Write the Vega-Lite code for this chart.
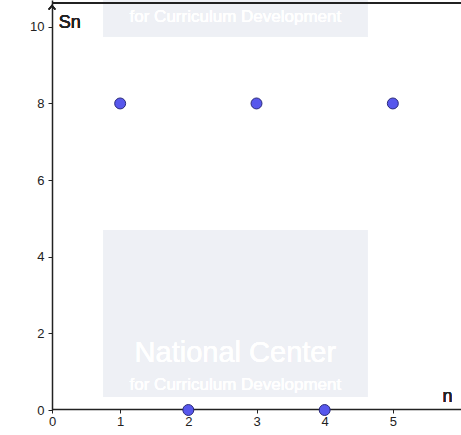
{
  "$schema": "https://vega.github.io/schema/vega-lite/v6.json",
  "width": 409,
  "height": 410,
  "autosize": {"type": "none"},
  "padding": {"left": 52, "top": 0, "right": 0, "bottom": 25},
  "background": "white",
  "config": {"view": {"stroke": null}, "font": "Liberation Sans"},
  "data": {"values": [
    {"n": 1, "Sn": 8},
    {"n": 2, "Sn": 0},
    {"n": 3, "Sn": 8},
    {"n": 4, "Sn": 0},
    {"n": 5, "Sn": 8}
  ]},
  "layer": [
    {
      "mark": {"type": "rect", "color": "#eef0f5"},
      "encoding": {"x": {"datum": 0.75}, "x2": {"datum": 4.63}, "y": {"datum": 4.7}, "y2": {"datum": 0.34}}
    },
    {
      "mark": {"type": "rect", "color": "#eef0f5"},
      "encoding": {"x": {"datum": 0.75}, "x2": {"datum": 4.63}, "y": {"datum": 10.7}, "y2": {"datum": 9.74}}
    },
    {
      "mark": {"type": "text", "fontSize": 29, "color": "white", "align": "center", "baseline": "middle"},
      "encoding": {"x": {"datum": 2.69}, "y": {"datum": 1.5}, "text": {"value": "National Center"}}
    },
    {
      "mark": {"type": "text", "fontSize": 17, "color": "white", "align": "center", "baseline": "middle"},
      "encoding": {"x": {"datum": 2.69}, "y": {"datum": 0.65}, "text": {"value": "for Curriculum Development"}}
    },
    {
      "mark": {"type": "text", "fontSize": 17, "color": "white", "align": "center", "baseline": "middle"},
      "encoding": {"x": {"datum": 2.69}, "y": {"datum": 10.25}, "text": {"value": "for Curriculum Development"}}
    },
    {
      "mark": {"type": "rule", "color": "#222", "strokeWidth": 1.5},
      "encoding": {"x": {"datum": 0}, "x2": {"datum": 6}, "y": {"datum": 10.62}}
    },
    {
      "mark": {"type": "point", "shape": "M-0.6,0.7L0,0L0.6,0.7", "size": 120, "filled": false, "stroke": "#222", "strokeWidth": 1.5},
      "encoding": {"x": {"datum": 0}, "y": {"datum": 10.55}}
    },
    {
      "mark": {"type": "text", "fontSize": 18, "align": "left", "color": "#222"},
      "encoding": {"x": {"datum": 0.1}, "y": {"datum": 10.1}, "text": {"value": "Sn"}}
    },
    {
      "mark": {"type": "text", "fontSize": 18, "align": "left", "color": "#222"},
      "encoding": {"x": {"datum": 5.73}, "y": {"datum": 0.35}, "text": {"value": "n"}}
    },
    {
      "mark": {"type": "point", "filled": true, "size": 120, "color": "#5757ec", "stroke": "#2a2a7a", "strokeWidth": 1, "opacity": 1},
      "encoding": {
        "x": {"field": "n", "type": "quantitative", "scale": {"domain": [0, 6], "nice": false},
          "axis": {"values": [0, 1, 2, 3, 4, 5], "format": "d", "title": null, "grid": false, "domainColor": "#222", "domainWidth": 1.5, "tickColor": "#222", "tickSize": 4, "labelColor": "#222", "labelFontSize": 13, "labelFlush": false, "offset": -1}},
        "y": {"field": "Sn", "type": "quantitative", "scale": {"domain": [0, 10.7], "nice": false},
          "axis": {"values": [0, 2, 4, 6, 8, 10], "format": "d", "title": null, "grid": false, "domainColor": "#222", "domainWidth": 1.5, "tickColor": "#222", "tickSize": 4, "labelColor": "#222", "labelFontSize": 13, "labelFlush": false, "labelPadding": 4}}
      }
    }
  ]
}
